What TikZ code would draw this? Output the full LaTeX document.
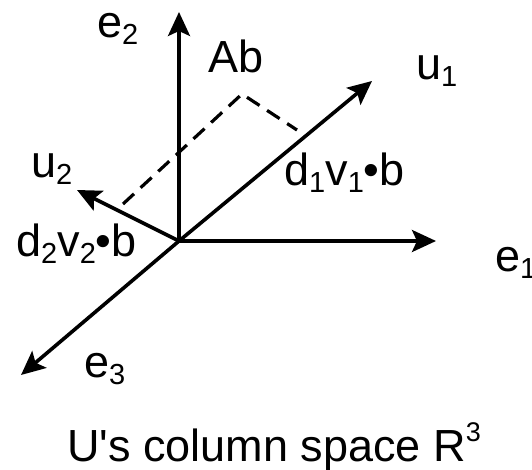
\documentclass[tikz,border=0pt]{standalone}
\usepackage{fontspec}
\setmainfont{Liberation Sans}
\usetikzlibrary{arrows.meta}
\newcommand\lowidx[1]{\raisebox{-7pt}{\fontsize{29}{29}\selectfont #1}}
\newcommand\upidx[1]{\raisebox{20pt}{\fontsize{27}{27}\selectfont #1}}
\tikzset{
  vec/.style={line width=3.6pt, -{Stealth[length=24pt, width=22pt, inset=5pt]}},
  proj/.style={line width=3.2pt, dash pattern=on 15pt off 9pt},
  lbl/.style={anchor=base west, inner sep=0pt, font=\fontsize{45}{52}\selectfont},
}

\begin{document}
\begin{tikzpicture}[x=1pt, y=-1pt]
  \useasboundingbox (0,0) rectangle (532,470);

  % origin and arrow ends
  \coordinate (O) at (179,241);
  \coordinate (e1) at (436,241);
  \coordinate (e2) at (179,12);
  \coordinate (e3) at (21,375);
  \coordinate (u1) at (372,81);
  \coordinate (u2) at (77,190);

  % projection corners
  \coordinate (Ab) at (242,94);
  \coordinate (p1) at (297,130);
  \coordinate (p2) at (123,204);

  % axes and singular directions
  \foreach \t in {e1,e2,e3,u1,u2}
    \draw[vec] (O) -- (\t);

  % Ab split along u1, u2
  \draw[proj] (p2) -- (Ab) -- (p1);

  % labels
  \node[lbl] (le2) at (97,38) {e\lowidx{2}};
  \node[lbl] (lAb) at (208,73) {Ab};
  \node[lbl] (lu1) at (416,80) {u\lowidx{1}};
  \node[lbl] (lu2) at (31,178) {u\lowidx{2}};
  \node[lbl] (ld1) at (284,186) {d\lowidx{1}v\lowidx{1}\textbullet b};
  \node[lbl] (ld2) at (16,256) {d\lowidx{2}v\lowidx{2}\textbullet b};
  \node[lbl] (le1) at (495,271) {e\lowidx{1}};
  \node[lbl] (le3) at (84,377) {e\lowidx{3}};
  \node[lbl] (cap) at (67,461) {U\textquotesingle s column space R\upidx{3}};
\end{tikzpicture}
\end{document}
